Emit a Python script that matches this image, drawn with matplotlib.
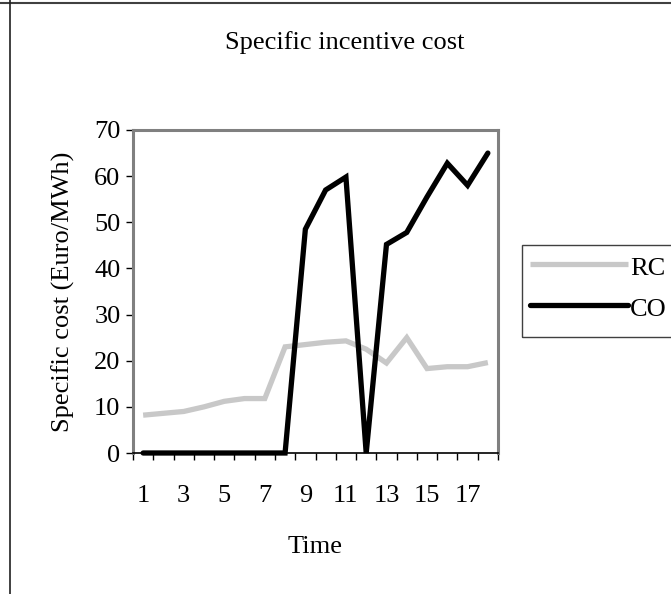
import numpy as np
import matplotlib
matplotlib.use("Agg")
import matplotlib.pyplot as plt
from matplotlib.lines import Line2D
from matplotlib.patches import Rectangle
from matplotlib.ticker import MultipleLocator, FixedLocator

plt.rcParams['font.family'] = ['Liberation Serif', 'DejaVu Serif']

# data
time = np.arange(1, 19)
rc = [8.2, 8.6, 9.0, 10.0, 11.2, 11.8, 11.8, 23.0, 23.5, 24.0, 24.3, 22.5,
      19.5, 25.0, 18.3, 18.7, 18.7, 19.6]
co = [0, 0, 0, 0, 0, 0, 0, 0, 48.5, 57.0, 59.8, 0, 45.2, 47.8, 55.5, 62.8,
      58.0, 65.0]
tick_labels = [str(t) for t in range(1, 18, 2)]

W, H = 671, 594
FS = 19

fig = plt.figure(figsize=(W / 100, H / 100), dpi=100)
fig.patch.set_facecolor('white')

# outer chart frame (only top and left edges fall inside the picture)
fig.add_artist(Line2D([0, 1], [1 - 3 / H, 1 - 3 / H], color='#404040', lw=1.5))
fig.add_artist(Line2D([10 / W, 10 / W], [0, 1], color='#202020', lw=1.2))

x0, x1, y0, y1 = 133, 498, 130, 453
ax = fig.add_axes([x0 / W, 1 - y1 / H, (x1 - x0) / W, (y1 - y0) / H])

ax.plot(time, rc, color='#c8c8c8', lw=3.8, solid_joinstyle='miter',
        solid_capstyle='butt', label='RC', zorder=3)
ax.plot(time, co, color='black', lw=3.8, solid_joinstyle='miter',
        solid_capstyle='round', label='CO', zorder=4, clip_on=False)

ax.set_xlim(0.5, 18.5)
ax.set_ylim(0, 70)
ax.yaxis.set_major_locator(MultipleLocator(10))
ax.xaxis.set_major_locator(FixedLocator(range(1, 18, 2)))
ax.set_xticklabels(tick_labels)
ax.xaxis.set_minor_locator(FixedLocator(np.arange(0.5, 18.6, 1)))
ax.tick_params(axis='x', which='major', length=0, labelsize=FS, pad=23)
ax.tick_params(axis='x', which='minor', length=5, width=1, color='black')
ax.tick_params(axis='y', which='major', length=5, width=1, color='black',
               labelsize=FS, pad=4)

for side in ['top', 'right', 'left']:
    ax.spines[side].set_color('#808080')
    ax.spines[side].set_linewidth(2.2)
ax.spines['bottom'].set_color('black')
ax.spines['bottom'].set_linewidth(1.2)
ax.spines['bottom'].set_zorder(5)

ax.set_ylabel('Specific cost (Euro/MWh)', fontsize=FS, labelpad=14)
ax.set_xlabel('Time', fontsize=FS, labelpad=21)

fig.text(345 / W, 1 - 43 / H, 'Specific incentive cost', fontsize=FS,
         ha='center', va='center')

# legend box runs past the right edge of the picture
fig.add_artist(Rectangle((522 / W, 1 - 337 / H), 200 / W, 92 / H,
                         transform=fig.transFigure, fill=False,
                         edgecolor='#404040', lw=1.0, clip_on=False))
leg = fig.legend(loc='upper left', bbox_to_anchor=(522 / W, 1 - 245 / H),
                 fontsize=FS, frameon=False, handlelength=3.7,
                 handleheight=1.15, handletextpad=0.1, borderpad=0.3,
                 labelspacing=0.55, borderaxespad=0)

fig.savefig('out.png', dpi=100)
